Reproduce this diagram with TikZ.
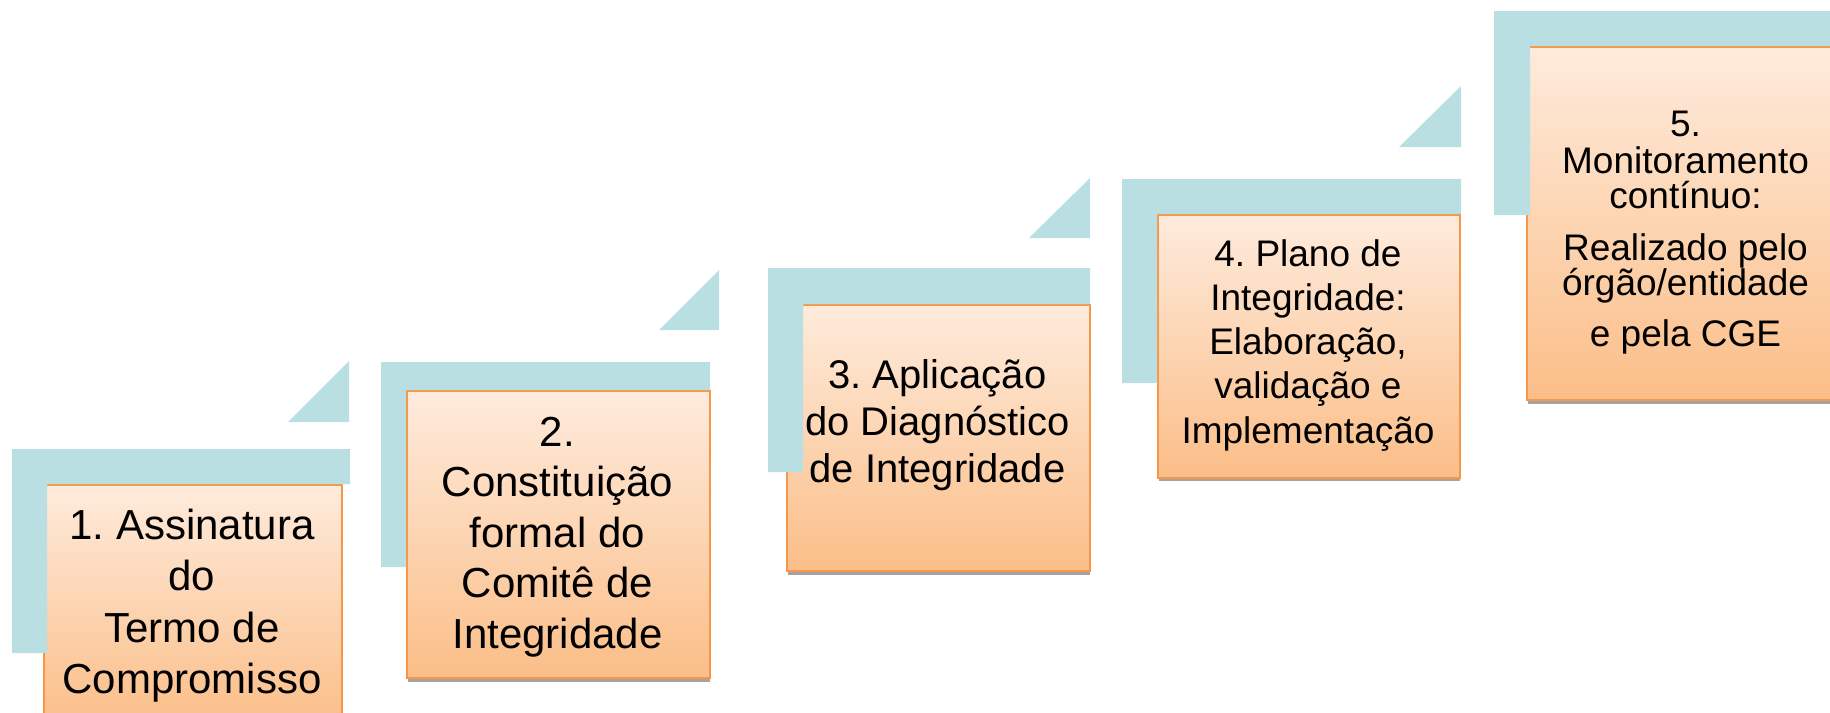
\documentclass[tikz,border=0pt]{standalone}
\usepackage{fontspec}
\setmainfont{Liberation Sans}
\frenchspacing
\definecolor{tealc}{HTML}{B9DFE2}
\definecolor{otop}{HTML}{FEEBDC}
\definecolor{obot}{HTML}{FBBE88}
\definecolor{oline}{HTML}{F79646}
\definecolor{shade}{HTML}{A3A3A3}
\tikzset{
  teal/.style={fill=tealc, draw=none},
  obox/.style={rectangle, inner sep=0pt, anchor=north west, top color=otop, bottom color=obot, draw=oline, line width=1.8pt},
  shadowbox/.style={fill=shade, draw=none},
  tA/.style={anchor=base, inner sep=0pt, font=\fontsize{42}{50}\selectfont},
  tB/.style={anchor=base, inner sep=0pt, font=\fontsize{40}{47}\selectfont},
  tC/.style={anchor=base, inner sep=0pt, font=\fontsize{37}{44}\selectfont},
}
\begin{document}
\frenchspacing
\begin{tikzpicture}[x=1pt,y=-1pt]
\useasboundingbox (0,0) rectangle (1830,712);
\clip (0,0) rectangle (1830,712);
% shadows
\fill[shadowbox] (408,672) rectangle (710,682);
\fill[shadowbox] (788,566) rectangle (1090,575);
\fill[shadowbox] (1159,472) rectangle (1460,481);
\fill[shadowbox] (1528,394) rectangle (1850,404);
% orange boxes
\node[obox, minimum width=298pt, minimum height=240pt] (box1) at (43,484) {};
\node[obox, minimum width=303pt, minimum height=287pt] (box2) at (406,390) {};
\node[obox, minimum width=303pt, minimum height=266pt] (box3) at (786,304) {};
\node[obox, minimum width=302pt, minimum height=263pt] (box4) at (1157,214) {};
\node[obox, minimum width=330pt, minimum height=353pt] (box5) at (1526,46) {};
% teal corners
\fill[teal] (12,449) -- (350,449) -- (350,484) -- (47,484) -- (47,653) -- (12,653) -- cycle;
\fill[teal] (381,362) -- (710,362) -- (710,390) -- (406,390) -- (406,567) -- (381,567) -- cycle;
\fill[teal] (768,268) -- (1090,268) -- (1090,304) -- (803,304) -- (803,472) -- (768,472) -- cycle;
\fill[teal] (1122,179) -- (1461,179) -- (1461,214) -- (1157,214) -- (1157,383) -- (1122,383) -- cycle;
\fill[teal] (1494,11) -- (1850,11) -- (1850,46) -- (1530,46) -- (1530,215) -- (1494,215) -- cycle;
% teal triangles
\fill[teal] (288,422) -- (349,422) -- (349,361) -- cycle;
\fill[teal] (659,330) -- (719,330) -- (719,270) -- cycle;
\fill[teal] (1029,238) -- (1090,238) -- (1090,178) -- cycle;
\fill[teal] (1399,147) -- (1461,147) -- (1461,86) -- cycle;
% texts step 1
\node[tA] (t1a) at (192,539) {1. Assinatura};
\node[tA] (t1b) at (192,590) {do};
\node[tA] (t1c) at (192,642) {Termo de};
\node[tA] (t1d) at (192,693) {Compromisso};
% step 2
\node[tA] (t2a) at (557.5,446) {2.};
\node[tA] (t2b) at (557.5,496.5) {Constituição};
\node[tA] (t2c) at (557.5,547) {formal do};
\node[tA] (t2d) at (557.5,597.5) {Comitê de};
\node[tA] (t2e) at (557.5,648) {Integridade};
% step 3
\node[tB] (t3a) at (937.5,388.3) {3. Aplicação};
\node[tB] (t3b) at (937.5,435.7) {do Diagnóstico};
\node[tB] (t3c) at (937.5,482.7) {de Integridade};
% step 4
\node[tC] (t4a) at (1308,266) {4. Plano de};
\node[tC] (t4b) at (1308,310.3) {Integridade:};
\node[tC] (t4c) at (1308,354.6) {Elaboração,};
\node[tC] (t4d) at (1308,398.9) {validação e};
\node[tC] (t4e) at (1308,443.2) {Implementação};
% step 5
\node[tC] (t5a) at (1685.5,136.7) {5.};
\node[tC] (t5b) at (1685.5,173.3) {Monitoramento};
\node[tC] (t5c) at (1685.5,208.3) {contínuo:};
\node[tC] (t5d) at (1685.5,260) {Realizado pelo};
\node[tC] (t5e) at (1685.5,295) {órgão/entidade};
\node[tC] (t5f) at (1685.5,346.7) {e pela CGE};
\end{tikzpicture}
\end{document}
